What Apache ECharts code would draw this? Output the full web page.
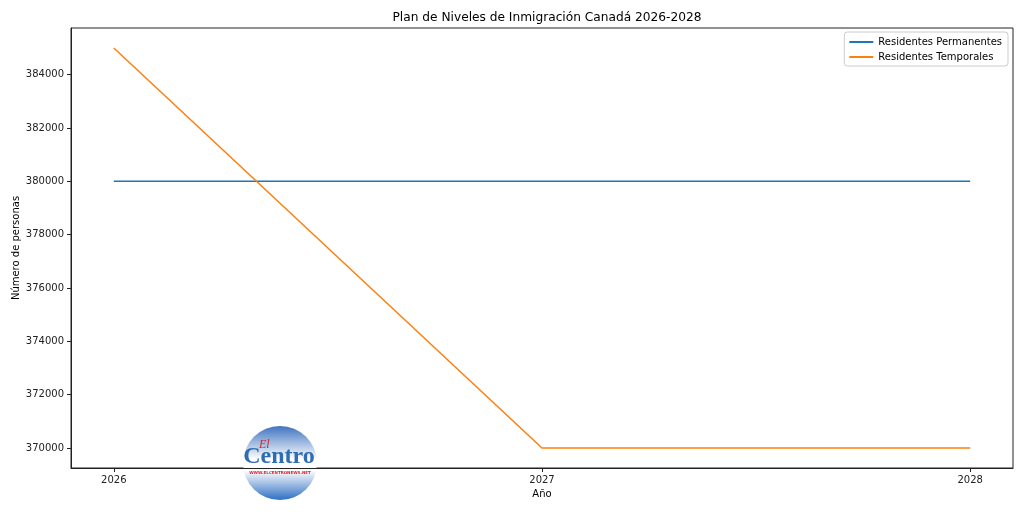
<!DOCTYPE html>
<html>
<head>
<meta charset="utf-8">
<script src="https://cdn.jsdelivr.net/npm/echarts@6/dist/echarts.min.js"></script>
<style>
  html, body { margin: 0; padding: 0; background: #fff; }
  #chart { width: 1024px; height: 512px; }
</style>
</head>
<body>
<div id="chart"></div>
<script>
// datos
const years = [2026, 2027, 2028]
const permanentes = [380000, 380000, 380000]
const temporales = [385000, 370000, 370000]
const yTicks = [370000, 372000, 374000, 376000, 378000, 380000, 382000, 384000]

const font = 'DejaVu Sans'
const chart = echarts.init(document.getElementById('chart'), null, { renderer: 'canvas' })

const toPairs = (vals) => years.map((y, i) => [y, vals[i]])

const option = {
  animation: false,
  backgroundColor: '#fff',
  textStyle: { fontFamily: font },
  title: {
    text: 'Plan de Niveles de Inmigración Canadá 2026-2028',
    left: 542,
    top: 7,
    textAlign: 'center',
    textStyle: { fontFamily: font, fontSize: 12.2, fontWeight: 'normal', color: '#000' }
  },
  grid: {
    left: 71, right: 11, top: 28, bottom: 44,
    containLabel: false,
    outerBoundsMode: 'none',
    show: true, borderColor: '#222', borderWidth: 1, backgroundColor: 'transparent'
  },
  legend: {
    orient: 'vertical',
    right: 16,
    top: 32,
    backgroundColor: '#fff',
    borderColor: '#ccc',
    borderWidth: 1,
    borderRadius: 3,
    padding: [5, 6, 4, 5],
    itemGap: 5,
    itemWidth: 24,
    itemHeight: 2,
    icon: 'rect',
    textStyle: { fontFamily: font, fontSize: 10, color: '#000' },
    data: ['Residentes Permanentes', 'Residentes Temporales']
  },
  xAxis: {
    type: 'value',
    min: 2025.9,
    max: 2028.1,
    name: 'Año',
    nameLocation: 'middle',
    nameGap: 21,
    nameMoveOverlap: false,
    nameTextStyle: { fontFamily: font, fontSize: 10, color: '#000' },
    axisLine: { show: true, lineStyle: { color: '#222' } },
    splitLine: { show: false },
    axisTick: { show: true, length: 4, lineStyle: { color: '#222' }, customValues: years },
    axisLabel: {
      margin: 7, fontFamily: font, fontSize: 10, color: '#222', customValues: years,
      formatter: (v) => String(v)
    }
  },
  yAxis: {
    type: 'value',
    min: 369250,
    max: 385750,
    name: 'Número de personas',
    nameLocation: 'middle',
    nameGap: 50,
    nameMoveOverlap: false,
    nameTextStyle: { fontFamily: font, fontSize: 10, color: '#000' },
    axisLine: { show: true, lineStyle: { color: '#222' } },
    splitLine: { show: false },
    axisTick: { show: true, length: 4, lineStyle: { color: '#222' }, customValues: yTicks },
    axisLabel: {
      margin: 7, fontFamily: font, fontSize: 10, color: '#222', customValues: yTicks,
      formatter: (v) => String(v)
    }
  },
  series: [
    {
      name: 'Residentes Permanentes',
      type: 'line',
      data: toPairs(permanentes),
      showSymbol: false,
      color: '#1f77b4',
      lineStyle: { width: 1.5 }
    },
    {
      name: 'Residentes Temporales',
      type: 'line',
      data: toPairs(temporales),
      showSymbol: false,
      color: '#ff7f0e',
      lineStyle: { width: 1.5 }
    }
  ],
  // logo decorativo
  graphic: [
    {
      type: 'group',
      left: 243,
      top: 426,
      z: 100,
      children: [
        {
          type: 'circle',
          shape: { cx: 37, cy: 37, r: 37 },
          style: {
            fill: new echarts.graphic.LinearGradient(0, 0, 0, 1, [
              { offset: 0, color: '#3f74c0' },
              { offset: 0.45, color: '#ffffff' },
              { offset: 0.6, color: '#ffffff' },
              { offset: 1, color: '#2e6fc4' }
            ])
          }
        },
        {
          type: 'text',
          x: 36, y: 19,
          style: {
            text: 'Centro', fontFamily: 'Liberation Serif', fontSize: 24, fontWeight: 'bold',
            fill: '#2f6cb0', align: 'center'
          }
        },
        {
          type: 'text',
          x: 16, y: 13,
          style: { text: 'El', fontFamily: 'Liberation Serif', fontSize: 12, fontStyle: 'italic', fill: '#d9262b' }
        },
        {
          type: 'text',
          x: 37, y: 45,
          style: { text: 'WWW.ELCENTRONEWS.NET', fontFamily: font, fontSize: 4, fontWeight: 'bold', fill: '#d9262b', align: 'center' }
        }
      ]
    }
  ]
}

chart.setOption(option)
</script>
</body>
</html>
